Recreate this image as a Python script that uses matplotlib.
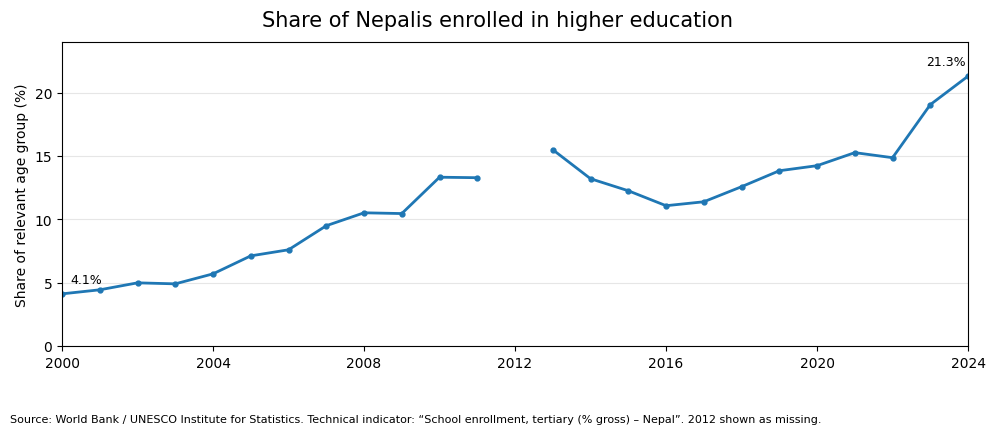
import numpy as np
import matplotlib
matplotlib.use("Agg")
import matplotlib.pyplot as plt

years = list(range(2000, 2025))
enrolment = [
    4.11, 4.43, 4.98, 4.90, 5.69, 7.11, 7.59, 9.49, 10.51, 10.45,
    13.32, 13.28, np.nan, 15.49, 13.20, 12.25, 11.07, 11.38, 12.57, 13.83,
    14.23, 15.26, 14.86, 19.05, 21.30,
]
xticks = [2000, 2004, 2008, 2012, 2016, 2020, 2024]
yticks = [0, 5, 10, 15, 20]

fig = plt.figure(figsize=(9.94, 4.35), dpi=100)
ax = fig.add_axes([0.0624, 0.2025, 0.9115, 0.6988])

ax.plot(years, enrolment, color="#1f77b4", linewidth=2, marker="o", markersize=3.5)

ax.set_xlim(2000, 2024)
ax.set_ylim(0, 24)
ax.set_xticks(xticks)
ax.set_yticks(yticks)
ax.yaxis.grid(True, color="#e6e6e6", linewidth=0.8)
ax.set_axisbelow(True)
ax.set_ylabel("Share of relevant age group (%)", fontsize=10)
ax.tick_params(labelsize=10)

# first and last labels
ax.annotate(f"{enrolment[0]:.1f}%", (years[0], enrolment[0]), xytext=(6, 6),
            textcoords="offset points", fontsize=9, ha="left", va="bottom")
ax.annotate(f"{enrolment[-1]:.1f}%", (years[-1], enrolment[-1]), xytext=(-2, 6),
            textcoords="offset points", fontsize=9, ha="right", va="bottom")

fig.suptitle("Share of Nepalis enrolled in higher education", fontsize=15, y=0.975)
fig.text(0.01, 0.023, "Source: World Bank / UNESCO Institute for Statistics. Technical indicator: "
         "\u201cSchool enrollment, tertiary (% gross) \u2013 Nepal\u201d. 2012 shown as missing.",
         fontsize=8, ha="left", va="bottom")

fig.savefig("out.png", dpi=100)
